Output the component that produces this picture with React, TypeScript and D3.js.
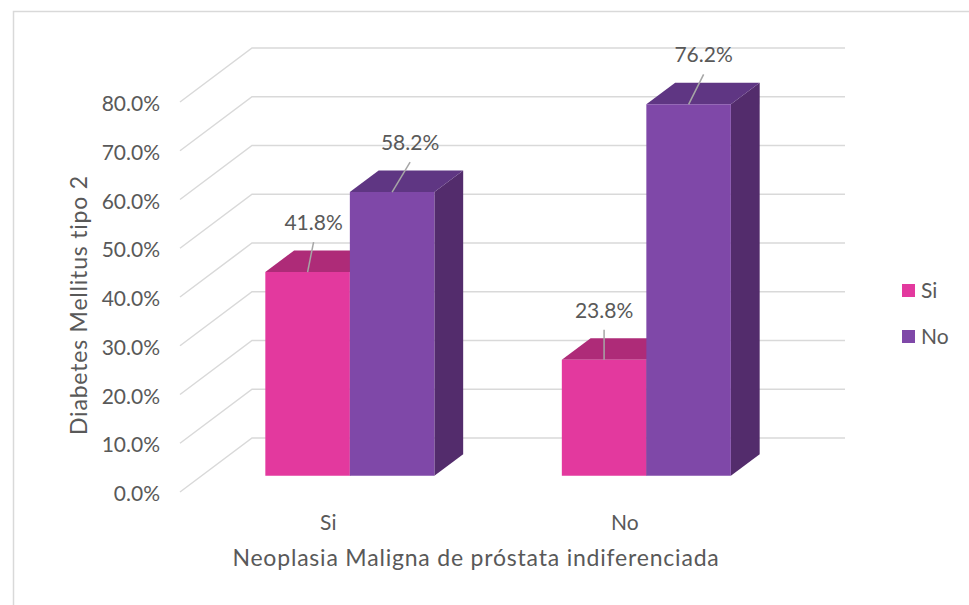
import React from 'react';
import * as d3 from 'd3';

// chart data
const categories = ['Si', 'No'];
const seriesNames = ['Si', 'No'];
const valuesSi = [41.8, 23.8];
const valuesNo = [58.2, 76.2];
const yTicks = [0, 10, 20, 30, 40, 50, 60, 70, 80];

const W = 969;
const H = 605;
const FONT = 'Lato, "Open Sans", sans-serif';
const TEXT = '#595959';
const GRID = '#d9d9d9';

// 3D look: full depth offset of the side wall, bars sit between t0 and t1
const DEPTH_X = 72;
const DEPTH_Y = -54;
const T0 = 0.3;
const T1 = 0.7;

const faceColors = [
  { front: '#e3399e', top: '#ae2b78', side: '#8c2261' },
  { front: '#7f48a8', top: '#5f3683', side: '#532c6c' },
];

// small horizontal nudge of each data label (per category, per series)
const labelDx = [
  [6, 18],
  [0, 15],
];

export default function App() {
  const x = d3.scaleBand<string>().domain(categories).range([180, 773]).padding(0);
  const xs = d3
    .scaleBand<string>()
    .domain(seriesNames)
    .range([0, x.bandwidth()])
    .paddingInner(0)
    .paddingOuter(0.754);
  const y = d3.scaleLinear().domain([0, 80]).range([492, 102]);

  const P = (px: number, v: number, t: number): [number, number] => [
    px + DEPTH_X * t,
    y(v) + DEPTH_Y * t,
  ];
  const poly = (pts: [number, number][]) => pts.map((p) => p.join(',')).join(' ');

  const seriesValues = [valuesSi, valuesNo];

  return (
    <svg
      width={W}
      height={H}
      style={{ position: 'absolute', left: 0, top: 0, background: '#fff' }}
      fontFamily={FONT}
    >
      {/* outer frame */}
      <rect x={13.5} y={11.5} width={W + 20} height={H + 20} fill="#fff" stroke={GRID} strokeWidth={1.5} />

      {/* side wall diagonals + back wall gridlines */}
      <g stroke={GRID} strokeWidth={1.5} fill="none">
        {yTicks.map((t) => {
          const a = P(180, t, 0);
          const b = P(180, t, 1);
          const c = P(773, t, 1);
          return <polyline key={t} points={poly([a, b, c])} />;
        })}
      </g>

      {/* y tick labels */}
      <g fontSize={21} fill={TEXT} textAnchor="end">
        {yTicks.map((t) => (
          <text key={t} x={160} y={y(t) + 9}>
            {t.toFixed(1)}%
          </text>
        ))}
      </g>

      {/* bars */}
      {categories.map((cat, ci) => (
        <g key={cat}>
          {seriesNames.map((s, si) => {
            const v = seriesValues[si][ci];
            const x0 = (x(cat) ?? 0) + (xs(s) ?? 0);
            const x1 = x0 + xs.bandwidth();
            const col = faceColors[si];
            return (
              <g key={s}>
                <polygon points={poly([P(x1, 0, T0), P(x1, 0, T1), P(x1, v, T1), P(x1, v, T0)])} fill={col.side} />
                <polygon points={poly([P(x0, v, T0), P(x1, v, T0), P(x1, v, T1), P(x0, v, T1)])} fill={col.top} />
                <polygon points={poly([P(x0, 0, T0), P(x1, 0, T0), P(x1, v, T0), P(x0, v, T0)])} fill={col.front} />
              </g>
            );
          })}
        </g>
      ))}

      {/* data labels with leader lines */}
      {categories.map((cat, ci) =>
        seriesNames.map((s, si) => {
          const v = seriesValues[si][ci];
          const xc = (x(cat) ?? 0) + (xs(s) ?? 0) + xs.bandwidth() / 2;
          const [px, py] = P(xc, v, T0);
          const dx = labelDx[ci][si];
          return (
            <g key={cat + s}>
              <line x1={px} y1={py} x2={px + dx} y2={py - 30} stroke="#a6a6a6" strokeWidth={1.5} />
              <text x={px + dx} y={py - 42} fontSize={21} fill={TEXT} textAnchor="middle">
                {v.toFixed(1)}%
              </text>
            </g>
          );
        })
      )}

      {/* category labels */}
      <g fontSize={21} fill={TEXT} textAnchor="middle">
        {categories.map((cat) => (
          <text key={cat} x={(x(cat) ?? 0) + x.bandwidth() / 2} y={530}>
            {cat}
          </text>
        ))}
      </g>

      {/* axis titles */}
      <text x={476} y={566} fontSize={23} letterSpacing={0.8} fill={TEXT} textAnchor="middle">
        Neoplasia Maligna de próstata indiferenciada
      </text>
      <text
        transform="translate(87,305) rotate(-90)"
        fontSize={23}
        letterSpacing={0.8}
        fill={TEXT}
        textAnchor="middle"
      >
        Diabetes Mellitus tipo 2
      </text>

      {/* legend */}
      {seriesNames.map((s, si) => (
        <g key={s} transform={`translate(902,${284 + si * 46})`}>
          <rect width={13} height={13} fill={faceColors[si].front} />
          <text x={19} y={14} fontSize={21} fill={TEXT}>
            {s}
          </text>
        </g>
      ))}
    </svg>
  );
}
